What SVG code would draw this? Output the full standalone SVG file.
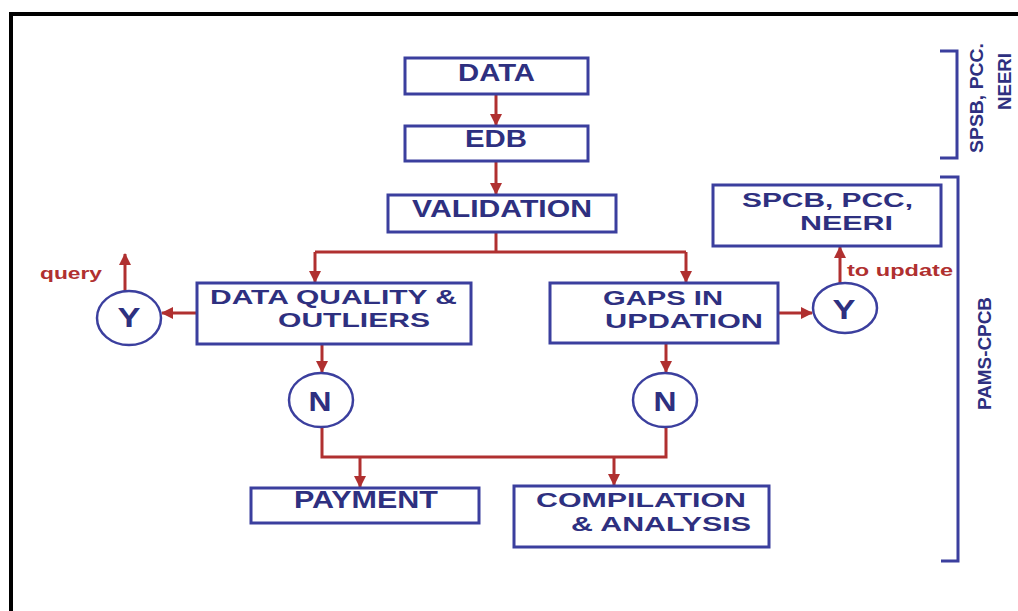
<svg xmlns="http://www.w3.org/2000/svg" width="1018" height="611" viewBox="0 0 1018 611">
<defs>
<marker id="ah" markerUnits="userSpaceOnUse" markerWidth="12" markerHeight="12" viewBox="0 0 12 12" refX="11" refY="6" orient="auto">
<path d="M0,0 L12,6 L0,12 Z" fill="#b03030"/>
</marker>
<style>
.box{fill:#fff;stroke:#3b3f9e;stroke-width:3}
.circ{fill:#fff;stroke:#3b3f9e;stroke-width:2.5}
.t{font-family:"Liberation Sans",Arial,sans-serif;font-weight:bold;fill:#2e3080;font-size:23px}
.t2{font-family:"Liberation Sans",Arial,sans-serif;font-weight:bold;fill:#2e3080;font-size:20px}
.c{font-family:"Liberation Sans",Arial,sans-serif;font-weight:bold;fill:#2e3080;font-size:28px;text-anchor:middle}
.r{font-family:"Liberation Sans",Arial,sans-serif;font-weight:bold;fill:#b03030;font-size:17px}
.side{font-family:"Liberation Sans",Arial,sans-serif;font-weight:bold;fill:#2e3080;font-size:19px}
.con{fill:none;stroke:#b03030;stroke-width:3}
.br{fill:none;stroke:#3b3f9e;stroke-width:3}
</style>
</defs>
<rect width="1018" height="611" fill="#fff"/>
<rect x="11" y="14" width="1020" height="620" fill="none" stroke="#000" stroke-width="4"/>

<g id="connectors">
<path class="con" d="M496,94 V125" marker-end="url(#ah)"/>
<path class="con" d="M496,161 V194" marker-end="url(#ah)"/>
<path class="con" d="M496,232 V252"/>
<path class="con" d="M315,252 H686"/>
<path class="con" d="M315,252 V282" marker-end="url(#ah)"/>
<path class="con" d="M686,252 V282" marker-end="url(#ah)"/>
<path class="con" d="M197,313 H162" marker-end="url(#ah)"/>
<path class="con" d="M125,291 V254" marker-end="url(#ah)"/>
<path class="con" d="M778,313 H812" marker-end="url(#ah)"/>
<path class="con" d="M840,283 V247" marker-end="url(#ah)"/>
<path class="con" d="M322,344 V372" marker-end="url(#ah)"/>
<path class="con" d="M666,343 V372" marker-end="url(#ah)"/>
<path class="con" d="M322,427 V457 H666 V427"/>
<path class="con" d="M360,457 V487" marker-end="url(#ah)"/>
<path class="con" d="M614,457 V485" marker-end="url(#ah)"/>
</g>

<g id="data"><rect class="box" x="405" y="58" width="183" height="36"/><text class="t" x="458" y="81" textLength="77" lengthAdjust="spacingAndGlyphs">DATA</text></g>
<g id="edb"><rect class="box" x="405" y="126" width="183" height="35"/><text class="t" x="465" y="147" textLength="62" lengthAdjust="spacingAndGlyphs">EDB</text></g>
<g id="validation"><rect class="box" x="388" y="195" width="228" height="37"/><text class="t" x="412" y="217" textLength="180" lengthAdjust="spacingAndGlyphs">VALIDATION</text></g>
<g id="dq"><rect class="box" x="197" y="283" width="274" height="61"/><text class="t2" x="210" y="304" textLength="247" lengthAdjust="spacingAndGlyphs">DATA QUALITY &amp;</text><text class="t2" x="278" y="327" textLength="152" lengthAdjust="spacingAndGlyphs">OUTLIERS</text></g>
<g id="gaps"><rect class="box" x="550" y="283" width="228" height="60"/><text class="t2" x="603" y="305" textLength="120" lengthAdjust="spacingAndGlyphs">GAPS IN</text><text class="t2" x="605" y="328" textLength="158" lengthAdjust="spacingAndGlyphs">UPDATION</text></g>
<g id="spcb"><rect class="box" x="713" y="185" width="228" height="61"/><text class="t2" x="742" y="207" textLength="171" lengthAdjust="spacingAndGlyphs">SPCB, PCC,</text><text class="t2" x="800" y="230" textLength="93" lengthAdjust="spacingAndGlyphs">NEERI</text></g>
<g id="yleft"><ellipse class="circ" cx="129" cy="318" rx="32" ry="27"/><text class="c" x="129" y="327" textLength="23" lengthAdjust="spacingAndGlyphs">Y</text></g>
<g id="yright"><ellipse class="circ" cx="845" cy="308" rx="32" ry="25"/><text class="c" x="844" y="319" textLength="23" lengthAdjust="spacingAndGlyphs">Y</text></g>
<g id="nleft"><ellipse class="circ" cx="321" cy="400" rx="32" ry="27"/><text class="c" x="320" y="411" textLength="23" lengthAdjust="spacingAndGlyphs">N</text></g>
<g id="nright"><ellipse class="circ" cx="665" cy="400" rx="32" ry="27"/><text class="c" x="665" y="411" textLength="23" lengthAdjust="spacingAndGlyphs">N</text></g>
<g id="payment"><rect class="box" x="251" y="488" width="228" height="35"/><text class="t" x="294" y="508" textLength="144" lengthAdjust="spacingAndGlyphs">PAYMENT</text></g>
<g id="compilation"><rect class="box" x="514" y="486" width="255" height="61"/><text class="t2" x="536" y="507" textLength="210" lengthAdjust="spacingAndGlyphs">COMPILATION</text><text class="t2" x="571" y="531" textLength="180" lengthAdjust="spacingAndGlyphs">&amp; ANALYSIS</text></g>

<g id="labels">
<text class="r" x="40" y="279" textLength="62" lengthAdjust="spacingAndGlyphs">query</text>
<text class="r" x="847" y="276" textLength="106" lengthAdjust="spacingAndGlyphs">to update</text>
</g>

<g id="bracket-spsb">
<path class="br" d="M940,51 H957 V158 H940"/>
<text class="side" transform="translate(983,153) rotate(-90)" textLength="110" lengthAdjust="spacingAndGlyphs">SPSB, PCC.</text>
<text class="side" transform="translate(1011,110) rotate(-90)" textLength="57" lengthAdjust="spacingAndGlyphs">NEERI</text>
</g>
<g id="bracket-pams">
<path class="br" d="M940,177 H958 V561 H941"/>
<text class="side" transform="translate(991,410) rotate(-90)" textLength="113" lengthAdjust="spacingAndGlyphs">PAMS-CPCB</text>
</g>
</svg>
